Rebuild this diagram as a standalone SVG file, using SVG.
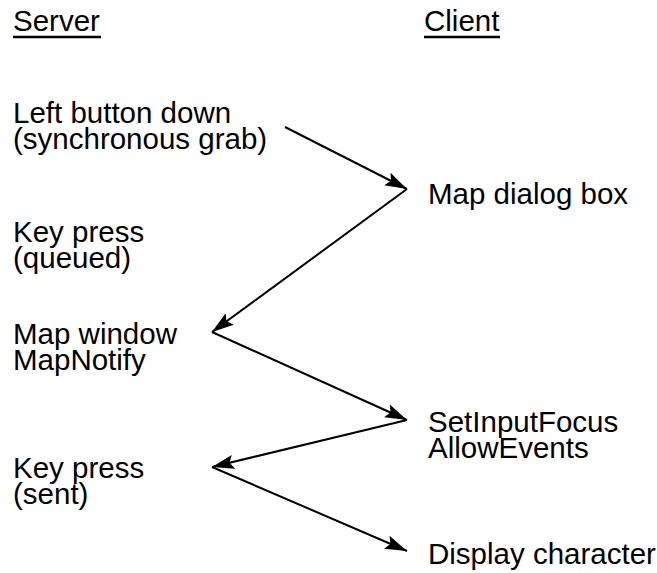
<svg xmlns="http://www.w3.org/2000/svg" width="657" height="573" viewBox="0 0 657 573">
<style>
text{font-family:"Liberation Sans",Arial,sans-serif;font-size:29.5px;fill:#000}
.c{stroke:#000;stroke-width:2;fill:none;marker-end:url(#ah)}
.u{stroke:#000;stroke-width:2.5}
</style>
<defs>
<marker id="ah" markerUnits="userSpaceOnUse" markerWidth="24" markerHeight="16" refX="22" refY="8" orient="auto" viewBox="0 0 24 16">
<path d="M0,1 L22,8 L0,15 L4,8 Z" fill="#000"/>
</marker>
</defs>
<g id="hdr-server"><text x="13" y="31">Server</text><line class="u" x1="13" y1="37" x2="101" y2="37"/></g>
<g id="hdr-client"><text x="424" y="31">Client</text><line class="u" x1="424" y1="37" x2="500" y2="37"/></g>
<g id="n1"><text x="13" y="123">Left button down</text><text x="13" y="149">(synchronous grab)</text></g>
<g id="n2"><text x="428" y="204">Map dialog box</text></g>
<g id="n3"><text x="13" y="242">Key press</text><text x="13" y="268">(queued)</text></g>
<g id="n4"><text x="13" y="344">Map window</text><text x="13" y="370">MapNotify</text></g>
<g id="n5"><text x="428" y="432">SetInputFocus</text><text x="428" y="458">AllowEvents</text></g>
<g id="n6"><text x="13" y="478">Key press</text><text x="13" y="504">(sent)</text></g>
<g id="n7"><text x="428" y="564">Display character</text></g>
<g id="connectors">
<line class="c" x1="285" y1="127" x2="407" y2="189"/>
<line class="c" x1="407" y1="189" x2="212" y2="332"/>
<line class="c" x1="212" y1="332" x2="407" y2="420"/>
<line class="c" x1="407" y1="420" x2="212" y2="467"/>
<line class="c" x1="212" y1="467" x2="407" y2="551"/>
</g>
</svg>
